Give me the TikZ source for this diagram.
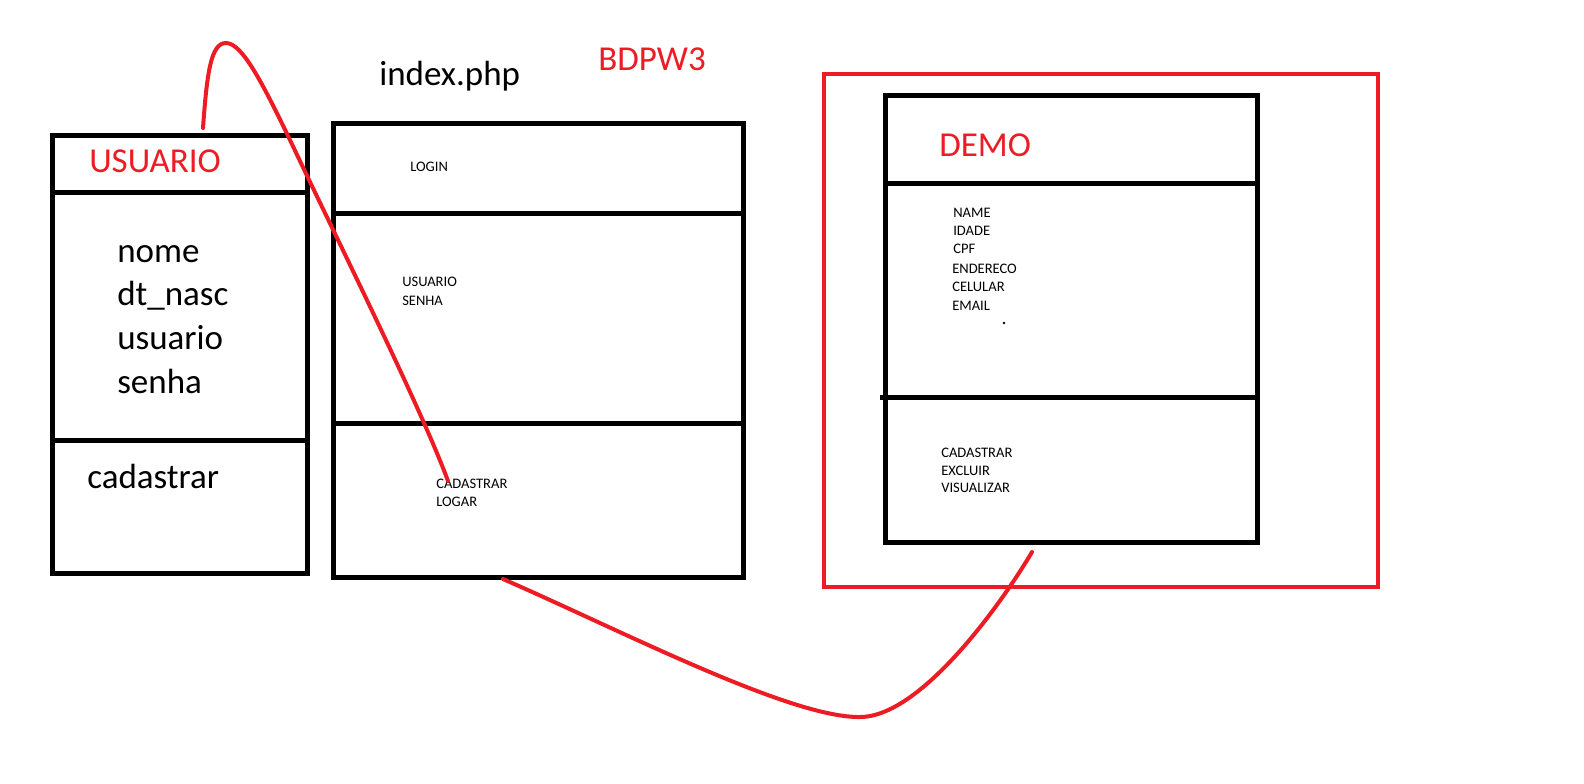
\documentclass[tikz,border=0pt]{standalone}
\usepackage{fontspec}
\setmainfont{Carlito}
\definecolor{pred}{HTML}{ED1C24}
\begin{document}
\begin{tikzpicture}[x=0.75pt,y=-0.75pt,
  boxline/.style={draw=black,line width=3.75pt},
  redbox/.style={draw=pred,line width=3.2pt},
  redcurve/.style={draw=pred,line width=3pt,line cap=round},
  big/.style={inner sep=0pt,anchor=base west,font=\fontsize{26.25}{30}\selectfont},
  small/.style={inner sep=0pt,anchor=base west,font=\fontsize{10.9}{13}\selectfont},
  redtxt/.style={text=pred}]
\useasboundingbox (0,0) rectangle (1584,783);
\fill[white] (0,0) rectangle (1584,783);

% USUARIO box
\coordinate (u1) at (52,135); \coordinate (u2) at (307,573);
\draw[boxline] (u1) rectangle (u2);
\draw[boxline] (52,192) -- (307,192);
\draw[boxline] (52,440) -- (307,440);
\node[big,redtxt] (utitle) at (89,172) {USUARIO};
\node[big] (unome) at (117,262) {nome};
\node[big] (udt) at (117,305) {dt\_nasc};
\node[big] (uusu) at (117,349) {usuario};
\node[big] (usen) at (117,393) {senha};
\node[big] (ucad) at (87,488) {cadastrar};

% index.php box
\node[big] (ititle) at (379,85) {index.php};
\node[big,redtxt] (bdpw) at (598,70) {BDPW3};
\coordinate (i1) at (333,123); \coordinate (i2) at (743,577);
\draw[boxline] (i1) rectangle (i2);
\draw[boxline] (331,213) -- (745,213);
\draw[boxline] (333,423) -- (745,423);
\node[small] (ilogin) at (410,171.5) {LOGIN};
\node[small] (iusu) at (402,286.5) {USUARIO};
\node[small] (isen) at (402,305.5) {SENHA};
\node[small] (icad) at (436,488.5) {CADASTRAR};
\node[small] (ilog) at (436,506.5) {LOGAR};

% red outer frame
\coordinate (r1) at (824,74); \coordinate (r2) at (1378,587);
\draw[redbox] (r1) rectangle (r2);

% DEMO box
\coordinate (d1) at (885,95); \coordinate (d2) at (1257,542);
\draw[boxline] (d1) rectangle (d2);
\draw[boxline] (885,183) -- (1260,183);
\draw[boxline] (880,397) -- (1257,397);
\node[big,redtxt] (dtitle) at (939,156) {DEMO};
\node[small] (dname) at (953,217.5) {NAME};
\node[small] (didade) at (953,235.5) {IDADE};
\node[small] (dcpf) at (953,253.5) {CPF};
\node[small] (dend) at (952,273.5) {ENDERECO};
\node[small] (dcel) at (952,291.5) {CELULAR};
\node[small] (demail) at (952,310.5) {EMAIL};
\fill (1004,323) circle (1.1pt);
\node[small] (dcad) at (941,457.5) {CADASTRAR};
\node[small] (dexc) at (941,475.5) {EXCLUIR};
\node[small] (dvis) at (941,492.5) {VISUALIZAR};

% red curves
\coordinate (c1s) at (203,128);
\coordinate (c1p) at (226,43);
\coordinate (c1e) at (448,481);
\draw[redcurve] (c1s) .. controls (207,72) and (211,43) .. (c1p)
  .. controls (242,43) and (262,82) .. (290,140)
  .. controls (330,225) and (420,405) .. (c1e);
\coordinate (c2s) at (503,579);
\coordinate (c2b) at (860,717);
\coordinate (c2e) at (1032,552);
\draw[redcurve] (c2s) .. controls (620,630) and (790,718) .. (c2b)
  .. controls (920,717) and (1000,606) .. (c2e);
\end{tikzpicture}
\end{document}
